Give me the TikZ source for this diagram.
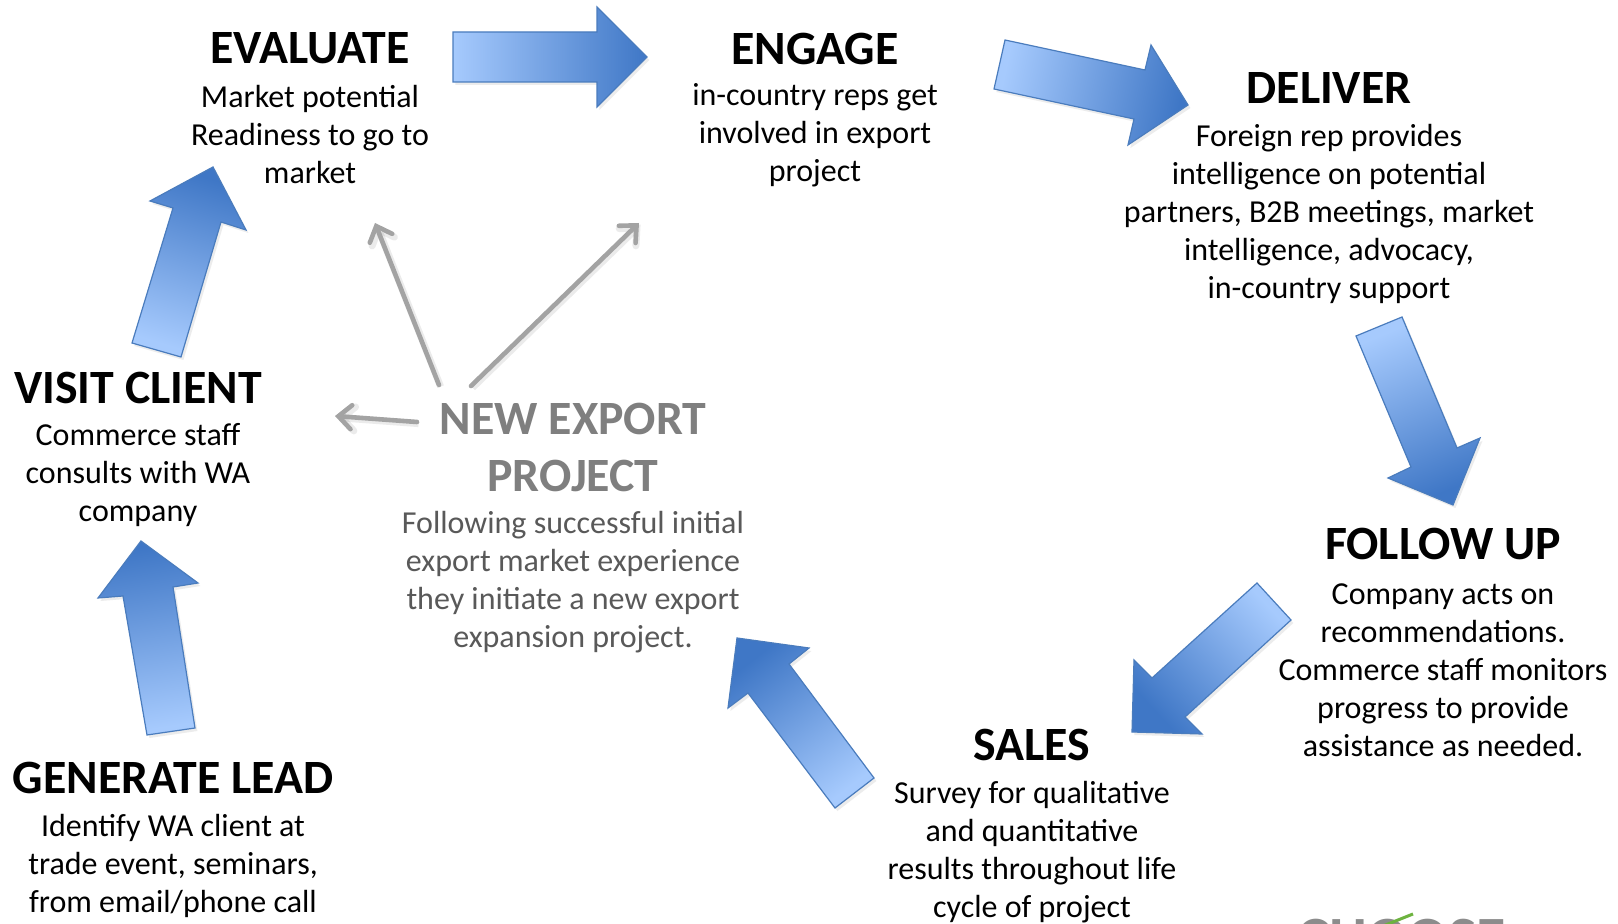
\documentclass[tikz,border=0pt]{standalone}
\usepackage{fontspec}
\setmainfont{Carlito}
\usetikzlibrary{arrows.meta,shadows}
\definecolor{arrlight}{HTML}{A6CAFD}
\definecolor{arrdark}{HTML}{3F77C6}
\definecolor{arrline}{HTML}{4A7CBD}
\definecolor{grayarr}{HTML}{A3A3A3}
\definecolor{newtitle}{HTML}{7F7F7F}
\definecolor{newbody}{HTML}{595959}
\definecolor{logogray}{HTML}{8C8C8C}
\definecolor{logogreen}{HTML}{6DB33F}
\begin{document}
\begin{tikzpicture}[x=0.5pt,y=-0.5pt,
  title/.style={font=\fontsize{23.9}{28}\selectfont\bfseries, align=center, inner sep=0pt},
  body/.style={font=\fontsize{16}{19}\selectfont, align=center, inner sep=0pt},
  blockarrow/.style={draw=arrline, line width=0.6pt, top color=arrdark, bottom color=arrlight,
    drop shadow={shadow xshift=1.2pt, shadow yshift=-1.5pt, opacity=0.15}},
  grayarrow/.style={draw=grayarr, line width=2.3pt, line cap=round,
    -{Straight Barb[length=6.5pt,width=12pt,line cap=round]},
    preaction={draw=black, opacity=0.08, line width=3.5pt, transform canvas={xshift=0.8pt,yshift=-0.8pt}}}
]
\useasboundingbox[fill=white] (0,0) rectangle (1618,924);

% block arrows
\draw[blockarrow, shading angle=-90] (453,32) -- (597,32) -- (597,7) -- (647,57) -- (597,107) -- (597,82) -- (453,82) -- cycle;
\draw[blockarrow, shading angle=-102] (1005,40) -- (1145,70) -- (1151,45) -- (1188,105) -- (1128,145) -- (1134,119) -- (994,89) -- cycle;
\draw[blockarrow, shading angle=-157.5] (1402,317) -- (1457,448) -- (1480,438) -- (1453,505) -- (1388,478) -- (1411,467) -- (1356,336) -- cycle;
\draw[blockarrow, shading angle=132.7] (1257,583) -- (1291,620) -- (1185,717) -- (1202,734) -- (1132,732) -- (1134,660) -- (1152,678) -- cycle;
\draw[blockarrow, shading angle=37.3] (874,778) -- (789,664) -- (809,648) -- (737,638) -- (728,708) -- (748,693) -- (835,808) -- cycle;
\draw[blockarrow, shading angle=9] (195,728) -- (173,587) -- (198,583) -- (141,541) -- (98,598) -- (123,596) -- (147,735) -- cycle;
\draw[blockarrow, shading angle=-17.3] (181,357) -- (221,222) -- (246,230) -- (213,167) -- (150,201) -- (173,208) -- (132,343) -- cycle;

% stage texts
\node[title] (evalT) at (310,48.5) {EVALUATE};
\node[body] (evalB) at (310,135) {Market potential\\Readiness to go to\\market};
\node[title] (engT) at (815,48.5) {ENGAGE};
\node[body] (engB) at (815,135) {in-country reps get\\involved in export\\project};
\node[title] (delT) at (1329,88) {DELIVER};
\node[body] (delB) at (1329,213.5) {Foreign rep provides\\intelligence on potential\\partners, B2B meetings, market\\intelligence, advocacy,\\in-country support};
\node[title] (folT) at (1443,544) {FOLLOW UP};
\node[body] (folB) at (1443,670) {Company acts on\\recommendations.\\Commerce staff monitors\\progress to provide\\assistance as needed.};
\node[title] (salT) at (1032,745) {SALES};
\node[body] (salB) at (1032,852) {Survey for qualitative\\and quantitative\\results throughout life\\cycle of project};
\node[title] (genT) at (173,778) {GENERATE LEAD};
\node[body] (genB) at (173,866) {Identify WA client at\\trade event, seminars,\\from email/phone call};
\node[title] (visT) at (138,388) {VISIT CLIENT};
\node[body] (visB) at (138,475) {Commerce staff\\consults with WA\\company};
\node[title, text=newtitle, font=\fontsize{23.9}{28.5}\selectfont\bfseries] (newT) at (573,447.5) {NEW EXPORT\\PROJECT};
\node[body, text=newbody] (newB) at (573,582) {Following successful initial\\export market experience\\they initiate a new export\\expansion project.};

% gray connectors from the new project
\coordinate (g1s) at (439,385); \coordinate (g1e) at (375,223);
\coordinate (g2s) at (471,386); \coordinate (g2e) at (639,223);
\coordinate (g3s) at (417,422); \coordinate (g3e) at (335,416);
\draw[grayarrow] (g1s) -- (g1e);
\draw[grayarrow] (g2s) -- (g2e);
\draw[grayarrow] (g3s) -- (g3e);

% cropped logo at the bottom edge
\node[anchor=north west, inner sep=0pt, text=logogray, font=\fontsize{30}{30}\selectfont\bfseries] (logo) at (1297,919) {CHOOSE};
\draw[logogreen, line width=1.5pt] (1383,926) -- (1413,914);
\end{tikzpicture}
\end{document}
